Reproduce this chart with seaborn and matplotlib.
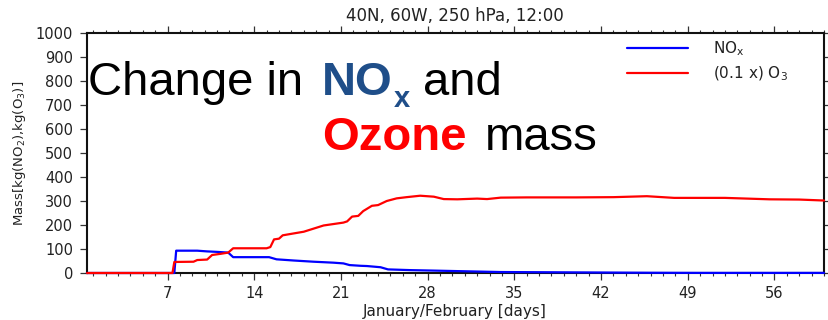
import matplotlib
matplotlib.use("Agg")
import matplotlib.pyplot as plt
import seaborn as sns
import pandas as pd

# ---- data ----
nox_days = [0.5, 7.55, 7.7, 9.4, 10.2, 11.0, 11.9, 12.3, 15.2, 15.8, 17.2, 18.8, 20.4,
            21.2, 21.7, 22.6, 23.1, 24.2, 24.8, 26.6, 28.5, 31.2, 33.9, 38.0, 42.0,
            46.0, 50.0, 60.0]
nox_mass = [0, 0, 93, 93, 90, 88, 85, 66, 66, 57, 52, 47, 43,
            40, 33, 30, 29, 24, 15, 12, 10, 7, 4, 3, 2,
            1, 0.5, 0.5]

o3_days = [0.5, 7.4, 7.55, 9.1, 9.4, 10.2, 10.6, 11.3, 11.9, 12.3, 15.0, 15.3, 15.6,
           16.0, 16.3, 17.2, 18.0, 18.8, 19.6, 20.4, 21.2, 21.5, 21.9, 22.4, 22.8,
           23.5, 24.0, 24.7, 25.5, 26.3, 27.4, 28.5, 29.3, 30.4, 32.0, 32.8, 33.9,
           36.0, 40.0, 43.0, 45.7, 47.9, 52.0, 55.6, 58.0, 60.0]
o3_mass = [0, 0, 46, 47, 54, 56, 75, 80, 85, 103, 103, 108, 140,
           143, 157, 165, 172, 185, 198, 204, 210, 215, 235, 238, 258,
           280, 283, 300, 311, 316, 322, 318, 308, 307, 310, 308, 314,
           315, 315, 316, 320, 313, 313, 307, 306, 302]

x_major = [7, 14, 21, 28, 35, 42, 49, 56]
x_minor = list(range(1, 61))
y_ticks = [0, 100, 200, 300, 400, 500, 600, 700, 800, 900, 1000]

title = "40N, 60W, 250 hPa, 12:00"
xlabel = "January/February [days]"
ylabel = "Mass[kg(NO$_2$),kg(O$_3$)]"
nox_label = "NO$_\\mathrm{x}$"
o3_label = "(0.1 x) O$_3$"

# ---- style ----
sns.set_style("ticks")
plt.rcParams["font.family"] = ["DejaVu Sans"]
plt.rcParams["mathtext.fontset"] = "dejavusans"

W, H = 829, 320
fig = plt.figure(figsize=(W / 100, H / 100), dpi=100)
ax = fig.add_axes([87 / W, 47 / H, (824 - 87) / W, (273 - 33) / H])

df_nox = pd.DataFrame({"day": nox_days, "mass": nox_mass})
df_o3 = pd.DataFrame({"day": o3_days, "mass": o3_mass})
sns.lineplot(data=df_nox, x="day", y="mass", ax=ax, color="#0000FF", lw=1.6,
             label=nox_label, estimator=None, sort=False, zorder=3, clip_on=False)
sns.lineplot(data=df_o3, x="day", y="mass", ax=ax, color="#FF0000", lw=1.6,
             label=o3_label, estimator=None, sort=False, zorder=3.1, clip_on=False)

ax.set_xlim(0.5, 60)
ax.set_ylim(0, 1000)
ax.set_xticks(x_major)
ax.set_xticks(x_minor, minor=True)
ax.set_yticks(y_ticks)
ax.set_xlabel("")
ax.set_ylabel("")

for s in ax.spines.values():
    s.set_visible(True)
    s.set_linewidth(1.5)
    s.set_color("#111111")
    s.set_zorder(2.5)

ax.tick_params(axis="both", which="major", direction="out", length=5, width=0.9,
               color="#333333", labelsize=10.5, labelcolor="#222222", pad=5,
               top=True, right=True)
ax.tick_params(axis="x", which="major", pad=4)
ax.tick_params(axis="x", which="minor", direction="out", length=2.5, width=0.8,
               color="#333333", top=True, bottom=True)

fig.text(455 / W, 1 - 21 / H, title, ha="center", va="baseline", fontsize=12,
         color="#222222")
fig.text(455 / W, 1 - 316 / H, xlabel, ha="center", va="baseline", fontsize=11,
         color="#222222")
fig.text(20 / W, 1 - 153 / H, ylabel, ha="center", va="center", rotation=90,
         fontsize=9.5, color="#222222")

handles, labels = ax.get_legend_handles_labels()
ax.legend(handles, labels, loc="upper left", bbox_to_anchor=(627 / W, 1 - 39 / H),
          bbox_transform=fig.transFigure, frameon=False, fontsize=11,
          handlelength=4.0, handletextpad=1.6, labelspacing=0.45,
          borderpad=0, borderaxespad=0, labelcolor="#222222")

# ---- overlay headline ----
big = dict(family=["Liberation Sans", "DejaVu Sans"], fontsize=34)
fig.canvas.draw()
renderer = fig.canvas.get_renderer()


def put(px, py, s, **kw):
    t = fig.text(px / W, 1 - py / H, s, ha="left", va="baseline", **kw)
    return t


put(88, 95, "Change in", color="black", **big)
t_no = put(322, 95, "NO", color="#1F4E89", fontweight="bold", **big)
w_no = t_no.get_window_extent(renderer).width
put(322 + w_no + 1, 107, "x", color="#1F4E89", fontweight="bold",
    family=["Liberation Sans", "DejaVu Sans"], fontsize=21)
put(423, 95, "and", color="black", **big)
put(322, 150, "Ozone", color="#FF0000", fontweight="bold", **big)
put(485, 150, "mass", color="black", **big)

fig.savefig("out.png", dpi=100)
